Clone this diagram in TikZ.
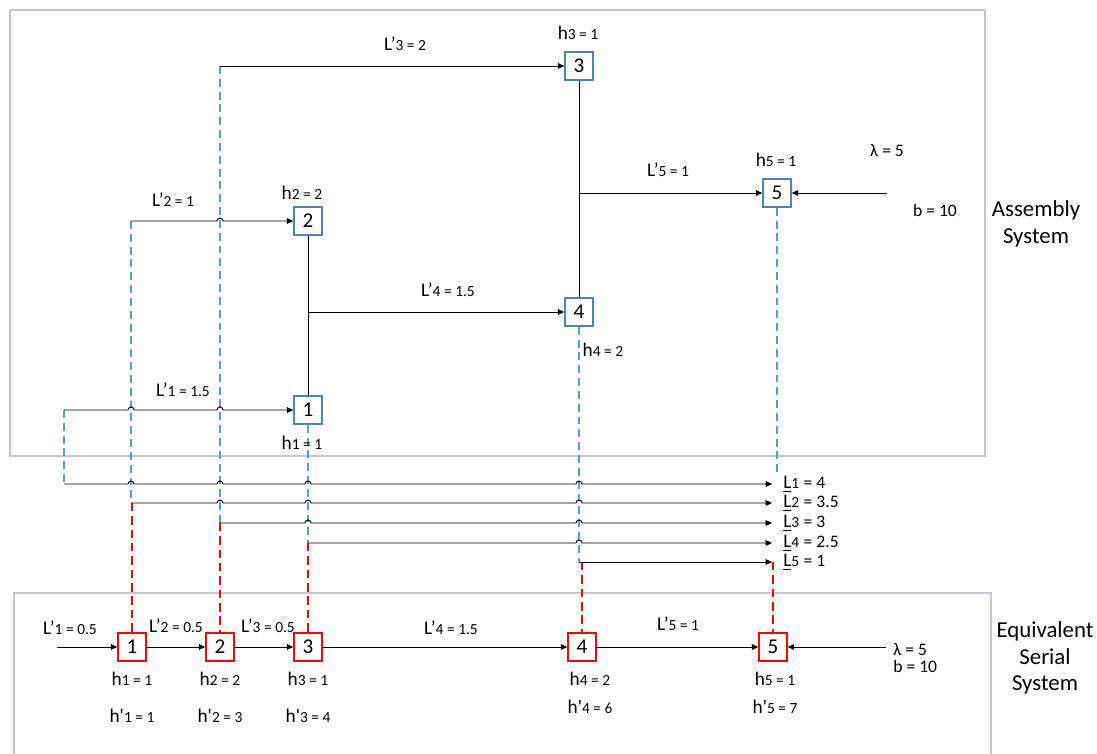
\documentclass[tikz,border=0pt]{standalone}
\usepackage{fontspec}
\setmainfont{Carlito}
\usetikzlibrary{arrows.meta,calc}
\definecolor{boxblue}{HTML}{4F81BD}
\definecolor{dashblue}{HTML}{5B9BD5}
\definecolor{framegray}{HTML}{C4C9CF}
\newcommand\sm[1]{{\fontsize{8.8}{10}\selectfont #1}}
\newcommand\md[1]{{\fontsize{10}{12}\selectfont #1}}
\newcommand\pr{\textquotesingle}
\newcommand\hop[2]{-- ($(#1 -| #2)+(-3,0)$) arc[start angle=180,end angle=0,radius=0.06cm]}
\begin{document}
\begin{tikzpicture}[x=0.02cm,y=-0.02cm,
 ablk/.style={draw=boxblue,line width=0.9pt,fill=white,minimum size=0.56cm,inner sep=0pt,font=\fontsize{12}{14}\selectfont},
 sblk/.style={draw=red,line width=0.9pt,fill=white,minimum size=0.56cm,inner sep=0pt,font=\fontsize{12}{14}\selectfont},
 conn/.style={line width=0.55pt,draw=black},
 arr/.style={conn,-{Triangle[length=3.6pt,width=3.2pt]}},
 bdash/.style={draw=dashblue,line width=0.7pt,dash pattern=on 4.5pt off 2.8pt},
 rdash/.style={draw=red,line width=0.7pt,dash pattern=on 4.8pt off 2.8pt},
 frame/.style={draw=framegray,line width=1.2pt},
 txt/.style={inner sep=0pt,font=\fontsize{11}{13}\selectfont},
 side/.style={inner sep=0pt,align=center,font=\fontsize{13}{15}\selectfont},
]
\useasboundingbox (0,0) rectangle (1097,753);
% frames
\draw[frame] (10,10) rectangle (985,456);
\draw[frame] (14,760) -- (14,593) -- (991,593) -- (991,760);

% assembly nodes
\node[ablk] (a1) at (308,410) {1};
\node[ablk] (a2) at (308,221) {2};
\node[ablk] (a3) at (579,66) {3};
\node[ablk] (a4) at (579,312) {4};
\node[ablk] (a5) at (777,193) {5};

% serial nodes
\node[sblk] (s1) at (132,647) {1};
\node[sblk] (s2) at (220,647) {2};
\node[sblk] (s3) at (308,647) {3};
\node[sblk] (s4) at (582,647) {4};
\node[sblk] (s5) at (773,647) {5};

% coordinates
\coordinate (d1) at (64,410);
\coordinate (d2) at (131,221);
\coordinate (d3) at (220,66);
\coordinate (e1) at (64,484);
\coordinate (e2) at (131,503);
\coordinate (e3) at (220,523);
\coordinate (e4) at (308,543);
\coordinate (e5) at (579,562);
\coordinate (t1) at (772,484);
\coordinate (t2) at (772,503);
\coordinate (t3) at (772,523);
\coordinate (t4) at (772,543);
\coordinate (t5) at (772,562);
\coordinate (f5) at (777,475);
\coordinate (in5) at (887,193);
\coordinate (in1) at (57,647);
\coordinate (ins5) at (886,647);

% blue dashed
\draw[bdash] (d1) -- (e1);
\draw[bdash] (d2) -- (e2);
\draw[bdash] (d3) -- (e3);
\draw[bdash] (a1.south) -- (e4);
\draw[bdash] (a4.south) -- (e5);
\draw[bdash] (a5.south) -- (f5);

% red dashed
\draw[rdash] (e2 -| s1) -- (s1.north);
\draw[rdash] (e3 -| s2) -- (s2.north);
\draw[rdash] (e4 -| s3) -- (s3.north);
\draw[rdash] (e5 -| s4) -- (s4.north);
\draw[rdash] (t5 -| s5) -- (s5.north);

% assembly connectors
\draw[arr] (d1) \hop{d1}{d2} \hop{d1}{d3} -- (a1);
\draw[arr] (d2) \hop{d2}{d3} -- (a2);
\draw[arr] (d3) -- (a3);
\draw[conn] (a3.south) -- (a4.north);
\draw[conn] (a2.south) -- (a1.north);
\draw[arr] (a3.south |- a5) -- (a5);
\draw[arr] (a2.south |- a4) -- (a4);
\draw[arr] (in5) -- (a5);

% L lines
\draw[arr] (e1) \hop{e1}{d2} \hop{e1}{d3} \hop{e1}{a1} \hop{e1}{a4} -- (t1);
\draw[arr] (e2) \hop{e2}{d3} \hop{e2}{a1} \hop{e2}{a4} -- (t2);
\draw[arr] (e3) \hop{e3}{a1} \hop{e3}{a4} -- (t3);
\draw[arr] (e4) \hop{e4}{a4} -- (t4);
\draw[arr] (e5) -- (t5);

% serial connectors
\draw[arr] (in1) -- (s1);
\draw[arr] (s1) -- (s2);
\draw[arr] (s2) -- (s3);
\draw[arr] (s3) -- (s4);
\draw[arr] (s4) -- (s5);
\draw[arr] (ins5) -- (s5);

% top labels
\node[txt] (lp3) at (405,44) {L’\sm{3 = 2}};
\node[txt] (h3) at (578,33) {h\sm{3 = 1}};
\node[txt] (lp5) at (668,170) {L’\sm{5 = 1}};
\node[txt] (h5) at (776,160) {h\sm{5 = 1}};
\node[txt] (lam) at (887,151) {\md{λ = 5}};
\node[txt] (bb) at (935,210) {\md{b = 10}};
\node[txt] (lp2) at (173,200) {L’\sm{2 = 1}};
\node[txt] (h2) at (302,193) {h\sm{2\kern2pt = 2}};
\node[txt] (lp4) at (448,290) {L’\sm{4 = 1.5}};
\node[txt] (h4) at (603,350) {h\sm{4\kern2pt = 2}};
\node[txt] (lp1) at (183,390) {L’\sm{1 = 1.5}};
\node[txt] (h1) at (302,443) {h\sm{1\kern2pt = 1}};
\node[side] (asm) at (1036,224) {Assembly\\System};

% L labels
\node[txt,anchor=west] (ll1) at (783,484) {\underline{L}\sm{1} \md{= 4}};
\node[txt,anchor=west] (ll2) at (783,503) {\underline{L}\sm{2} \md{= 3.5}};
\node[txt,anchor=west] (ll3) at (783,523) {\underline{L}\sm{3} \md{= 3}};
\node[txt,anchor=west] (ll4) at (783,543) {\underline{L}\sm{4} \md{= 2.5}};
\node[txt,anchor=west] (ll5) at (783,562) {\underline{L}\sm{5} \md{= 1}};

% bottom labels
\node[txt] (q1) at (70,628) {L’\sm{1 = 0.5}};
\node[txt] (q2) at (176,626) {L’\sm{2 = 0.5}};
\node[txt] (q3) at (268,626) {L’\sm{3 = 0.5}};
\node[txt] (q4) at (451,628) {L’\sm{4 = 1.5}};
\node[txt] (q5) at (678,624) {L’\sm{5 = 1}};
\node[txt,anchor=west] (lam2) at (893,650) {\md{λ = 5}};
\node[txt,anchor=west] (bb2) at (893,666) {\md{b = 10}};
\node[txt] (sh1) at (132,679) {h\sm{1\kern2pt = 1}};
\node[txt] (sh2) at (220,679) {h\sm{2\kern2pt = 2}};
\node[txt] (sh3) at (308,679) {h\sm{3 = 1}};
\node[txt] (sh4) at (590,679) {h\sm{4\kern2pt = 2}};
\node[txt] (sh5) at (775,679) {h\sm{5 = 1}};
\node[txt] (hp1) at (132,716) {h\pr\sm{1\kern2pt = 1}};
\node[txt] (hp2) at (220,716) {h\pr\sm{2\kern2pt = 3}};
\node[txt] (hp3) at (308,716) {h\pr\sm{3 = 4}};
\node[txt] (hp4) at (590,707) {h\pr\sm{4 = 6}};
\node[txt] (hp5) at (775,707) {h\pr\sm{5 = 7}};
\node[side] (eqs) at (1045,658) {Equivalent\\Serial\\System};
\end{tikzpicture}
\end{document}
